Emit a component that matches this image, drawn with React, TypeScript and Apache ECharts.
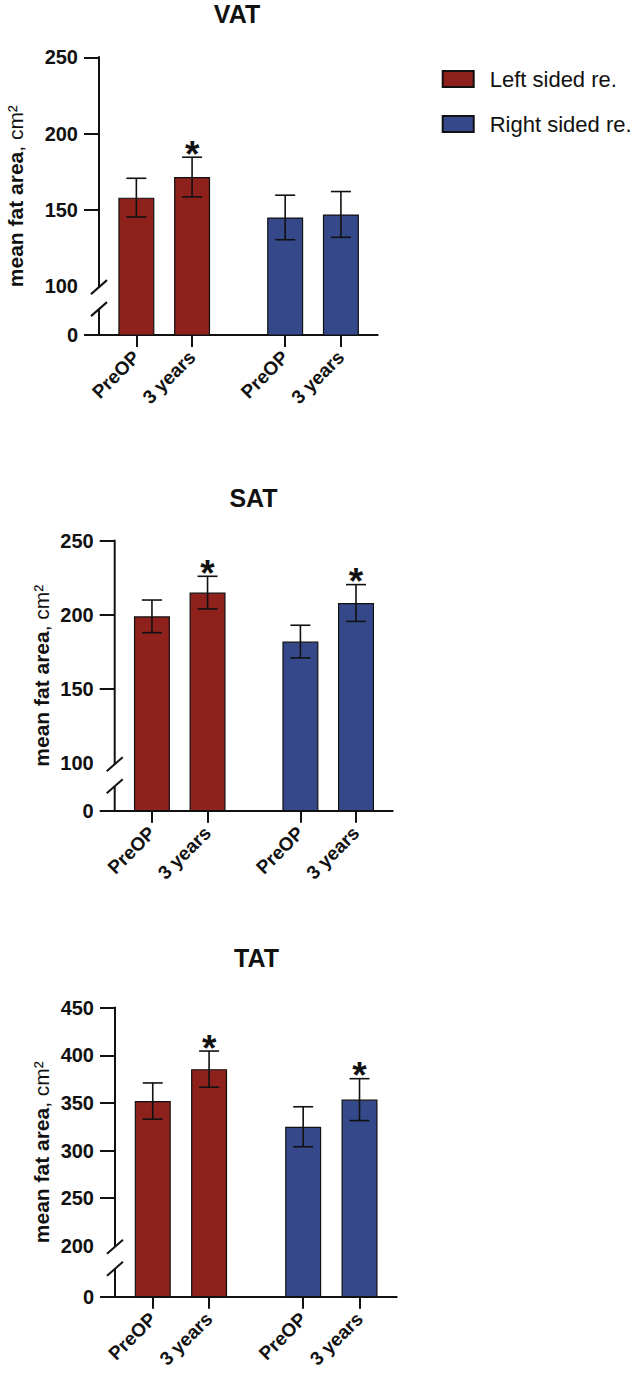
import React, { useEffect, useRef } from "react";
import * as echarts from "echarts";

const FONT = "'Liberation Sans', Arial, Helvetica, sans-serif";
const RED = "#8e211c";
const BLUE = "#35498a";
const INK = "#111111";

// Category labels under each bar and legend names
const TIMEPOINTS = ["PreOP", "3 years", "PreOP", "3 years"];
const SIDES = ["Left sided re.", "Right sided re."];

// Visceral adipose tissue (cm²): mean, error, significance flag
const VAT_MEAN = [158, 171.5, 145, 147];
const VAT_ERR = [12.7, 13, 14.6, 15];
const VAT_SIG = [false, true, false, false];
const VAT_TICKS = [100, 150, 200, 250];

// Subcutaneous adipose tissue (cm²)
const SAT_MEAN = [199, 215, 182, 208];
const SAT_ERR = [11, 11, 11, 12.4];
const SAT_SIG = [false, true, false, true];
const SAT_TICKS = [100, 150, 200, 250];

// Total adipose tissue (cm²)
const TAT_MEAN = [352, 385.5, 325, 353.5];
const TAT_ERR = [19, 19, 21, 22];
const TAT_SIG = [false, true, false, true];
const TAT_TICKS = [200, 250, 300, 350, 400, 450];

// Layout of the bars on a 0..5 x scale (two groups of two)
const SLOT_X = [0.67, 1.67, 3.34, 4.34];
const X_MAX = 5;
// Height of the short stub below the axis break, as a share of the upper span
const STUB = 0.2136;

const PANELS = [
  { title: "VAT", mean: VAT_MEAN, err: VAT_ERR, sig: VAT_SIG, ticks: VAT_TICKS,
    grid: { left: 99, top: 57.3, width: 278.7, height: 277.7 }, titleX: 237, titleY: 13.5, nameGap: 73 },
  { title: "SAT", mean: SAT_MEAN, err: SAT_ERR, sig: SAT_SIG, ticks: SAT_TICKS,
    grid: { left: 114.7, top: 540.7, width: 278, height: 270 }, titleX: 253.5, titleY: 497.5, nameGap: 63 },
  { title: "TAT", mean: TAT_MEAN, err: TAT_ERR, sig: TAT_SIG, ticks: TAT_TICKS,
    grid: { left: 115, top: 1007.7, width: 281.7, height: 289 }, titleX: 256.5, titleY: 958, nameGap: 63 },
];

function floorOf(ticks: number[]) {
  const brk = ticks[0];
  const top = ticks[ticks.length - 1];
  return brk - STUB * (top - brk);
}

function nearestSlot(v: number) {
  let best = 0;
  SLOT_X.forEach((s, i) => {
    if (Math.abs(s - v) < Math.abs(SLOT_X[best] - v)) best = i;
  });
  return best;
}

function buildOption() {
  const grid: any[] = [];
  const xAxis: any[] = [];
  const yAxis: any[] = [];
  const series: any[] = [];

  PANELS.forEach((p, i) => {
    const floor = floorOf(p.ticks);
    const top = p.ticks[p.ticks.length - 1];
    grid.push({ ...p.grid, containLabel: false });

    xAxis.push({
      type: "value",
      gridIndex: i,
      min: 0,
      max: X_MAX,
      splitLine: { show: false },
      axisLine: { show: true, onZero: false, lineStyle: { color: INK, width: 2 } },
      axisTick: { show: true, customValues: SLOT_X, length: 12, lineStyle: { color: INK, width: 2 } },
      axisLabel: {
        customValues: SLOT_X,
        formatter: (v: number) => TIMEPOINTS[nearestSlot(v)],
        rotate: 45,
        margin: 19,
        color: INK,
        fontSize: 19,
        fontWeight: "bold",
        fontFamily: FONT,
      },
    });

    yAxis.push({
      type: "value",
      gridIndex: i,
      min: floor,
      max: top,
      splitLine: { show: false },
      axisLine: { show: false },
      axisTick: {
        show: true,
        inside: false,
        length: 15,
        customValues: [floor, ...p.ticks.slice(1)],
        lineStyle: { color: INK, width: 2 },
      },
      axisLabel: {
        customValues: [floor, ...p.ticks],
        formatter: (v: number) => (Math.abs(v - floor) < 1e-6 ? "0" : String(v)),
        margin: 21,
        color: INK,
        fontSize: 20,
        fontWeight: "bold",
        fontFamily: FONT,
      },
      name: "{b|mean fat area}{r|, cm²}",
      nameLocation: "middle",
      nameGap: p.nameGap,
      nameTextStyle: {
        color: INK,
        fontFamily: FONT,
        rich: {
          b: { fontSize: 21, fontWeight: "bold", fontFamily: FONT, color: INK },
          r: { fontSize: 21, fontWeight: "normal", fontFamily: FONT, color: INK },
        },
      },
    });

    [0, 1].forEach((g) => {
      series.push({
        type: "bar",
        name: SIDES[g],
        xAxisIndex: i,
        yAxisIndex: i,
        barWidth: 36,
        barGap: "-100%",
        itemStyle: { color: g === 0 ? RED : BLUE, borderColor: INK, borderWidth: 1.2 },
        data: [2 * g, 2 * g + 1].map((k) => [SLOT_X[k], p.mean[k]]),
      });
    });

    series.push({
      type: "custom",
      xAxisIndex: i,
      yAxisIndex: i,
      z: 3,
      silent: true,
      encode: { x: 0, y: [1, 2] },
      data: p.mean.map((m, k) => [SLOT_X[k], m - p.err[k], m + p.err[k], p.sig[k] ? 1 : 0]),
      renderItem: (_params: any, api: any) => {
        const x = api.value(0);
        const hi = api.coord([x, api.value(2)]);
        const lo = api.coord([x, api.value(1)]);
        const half = 10;
        const style = { stroke: INK, lineWidth: 1.6 };
        const children: any[] = [
          { type: "line", shape: { x1: hi[0], y1: hi[1], x2: lo[0], y2: lo[1] }, style },
          { type: "line", shape: { x1: hi[0] - half, y1: hi[1], x2: hi[0] + half, y2: hi[1] }, style },
          { type: "line", shape: { x1: lo[0] - half, y1: lo[1], x2: lo[0] + half, y2: lo[1] }, style },
        ];
        if (api.value(3) === 1) {
          children.push({
            type: "text",
            x: hi[0],
            y: hi[1] - 3,
            style: {
              text: "*",
              fill: INK,
              fontSize: 37,
              fontWeight: "bold",
              fontFamily: FONT,
              align: "center",
              verticalAlign: "middle",
            },
          });
        }
        return { type: "group", children };
      },
    });
  });

  return {
    animation: false,
    backgroundColor: "#ffffff",
    textStyle: { fontFamily: FONT },
    legend: {
      data: SIDES,
      orient: "vertical",
      left: 441.7,
      top: 68,
      padding: 0,
      icon: "rect",
      itemWidth: 31,
      itemHeight: 16,
      itemGap: 23,
      selectedMode: false,
      textStyle: { fontSize: 22, color: INK, fontFamily: FONT, padding: [0, 0, 0, 11] },
    },
    grid,
    xAxis,
    yAxis,
    series,
  };
}

// Titles, broken y-axis lines and break marks, placed from the axis scales
function buildGraphics(chart: echarts.ECharts) {
  const out: any[] = [];
  const stroke = { stroke: INK, lineWidth: 2 };
  PANELS.forEach((p, i) => {
    const floor = floorOf(p.ticks);
    const brk = p.ticks[0];
    const top = p.ticks[p.ticks.length - 1];
    const x0 = chart.convertToPixel({ xAxisIndex: i }, 0) as number;
    const yTop = chart.convertToPixel({ yAxisIndex: i }, top) as number;
    const yBrk = (chart.convertToPixel({ yAxisIndex: i }, brk) as number) + 1;
    const yBottom = chart.convertToPixel({ yAxisIndex: i }, floor) as number;
    const yLow = yBrk + 22;

    out.push({ type: "line", shape: { x1: x0, y1: yTop - 1, x2: x0, y2: yBrk }, style: stroke, z: 10 });
    out.push({ type: "line", shape: { x1: x0, y1: yLow, x2: x0, y2: yBottom + 1 }, style: stroke, z: 10 });
    [yBrk, yLow].forEach((c) => {
      out.push({ type: "line", shape: { x1: x0 - 8, y1: c + 7, x2: x0 + 8, y2: c - 7 }, style: stroke, z: 10 });
    });
    out.push({
      type: "text",
      x: p.titleX,
      y: p.titleY,
      style: {
        text: p.title,
        fill: INK,
        fontSize: 25,
        fontWeight: "bold",
        fontFamily: FONT,
        align: "center",
        verticalAlign: "middle",
      },
    });
  });
  return out;
}

export default function App() {
  const ref = useRef<HTMLDivElement>(null);

  useEffect(() => {
    document.body.style.margin = "0";
    if (!ref.current) return;
    const chart = echarts.init(ref.current, undefined, { renderer: "svg" });
    chart.setOption(buildOption());
    chart.setOption({ graphic: buildGraphics(chart) });
    return () => chart.dispose();
  }, []);

  return <div ref={ref} style={{ width: 633, height: 1382, background: "#fff" }} />;
}
